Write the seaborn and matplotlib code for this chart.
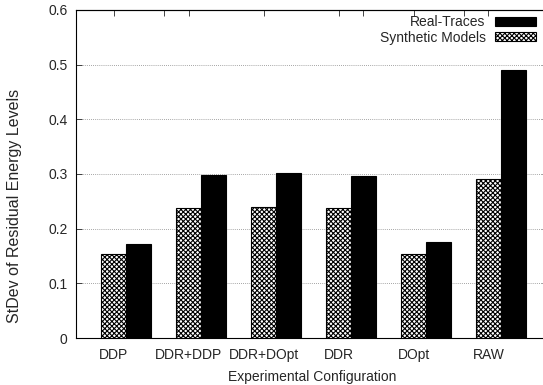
import matplotlib
matplotlib.use("Agg")
import matplotlib.pyplot as plt
import seaborn as sns
import pandas as pd
from matplotlib.patches import Patch

categories = ["DDP", "DDR+DDP", "DDR+DOpt", "DDR", "DOpt", "RAW"]
synthetic = [0.153, 0.237, 0.240, 0.238, 0.153, 0.291]
real = [0.172, 0.298, 0.302, 0.297, 0.175, 0.490]
series = ["Synthetic Models", "Real-Traces"]
yticks = [0, 0.1, 0.2, 0.3, 0.4, 0.5, 0.6]

sns.set_style("ticks")
plt.rcParams['font.family'] = ['Liberation Sans', 'DejaVu Sans']
plt.rcParams['hatch.linewidth'] = 0.8
plt.rcParams['hatch.color'] = 'black'

df = pd.DataFrame({
    "cat": categories * 2,
    "val": synthetic + real,
    "series": [series[0]] * len(categories) + [series[1]] * len(categories),
})

fig = plt.figure(figsize=(5.43, 3.85), dpi=100)
L, R, B, T = 76 / 543, 548 / 543, (385 - 338) / 385, (385 - 10) / 385
ax = fig.add_axes([L, B, R - L, T - B])
W = 0.667
HATCH = "xxxxxxx"
sns.barplot(data=df, x="cat", y="val", hue="series", hue_order=series,
            order=categories, palette=["white", "black"], width=W,
            saturation=1, edgecolor="black", linewidth=0.8, ax=ax, legend=False)

n = len(categories)
for i, p in enumerate(ax.patches[:2 * n]):
    if i < n:
        p.set_hatch(HATCH)
        p.set_facecolor("white")
    else:
        p.set_facecolor("black")

ax.set_xlim(-0.667, (548 - 126) / 75)
ax.set_ylim(0, 0.6)
ax.set_yticks(yticks)
ax.set_yticklabels([f"{t:g}" for t in yticks], fontsize=10)
ax.set_xticks([i - W / 4 for i in range(n)])
ax.set_xticklabels(categories, fontsize=10)
ax.tick_params(axis="x", direction="in", top=False, length=4, width=0.6, pad=7)
ax.tick_params(axis="y", direction="in", right=True, length=4, width=0.6, pad=6)

top = ax.secondary_xaxis("top")
top.set_xticks([i - W / 4 for i in range(n)] + [0.667 - W / 4, 3.333 - W / 4, 4.667 - W / 4])
top.tick_params(direction="in", length=4, width=0.6, labeltop=False)
top.spines["top"].set_linewidth(0.8)

ax.yaxis.grid(True, linestyle=(0, (1, 1.5)), color="#888888", linewidth=0.6)
ax.set_axisbelow(True)
for s in ax.spines.values():
    s.set_linewidth(0.8)
    s.set_color("black")

ax.set_xlabel("Experimental Configuration", fontsize=10, labelpad=6)
ax.set_ylabel("StDev of Residual Energy Levels", fontsize=11.5)
ax.yaxis.set_label_coords((15 - 76) / (548 - 76), (338 - 206) / 328)
ax.yaxis.label.set_va("center")

handles = [Patch(facecolor="black", edgecolor="black", linewidth=0.8),
           Patch(facecolor="white", edgecolor="black", hatch=HATCH, linewidth=0.8)]
leg = ax.legend(handles, ["Real-Traces", "Synthetic Models"], loc="upper right",
                bbox_to_anchor=((535.5 - 76) / (548 - 76), (338 - 15) / 328),
                borderaxespad=0, frameon=False, markerfirst=False, fontsize=10,
                handlelength=2.95, handleheight=0.6, labelspacing=0.12,
                handletextpad=0.65, borderpad=0)

fig.savefig("out.png", dpi=100)
